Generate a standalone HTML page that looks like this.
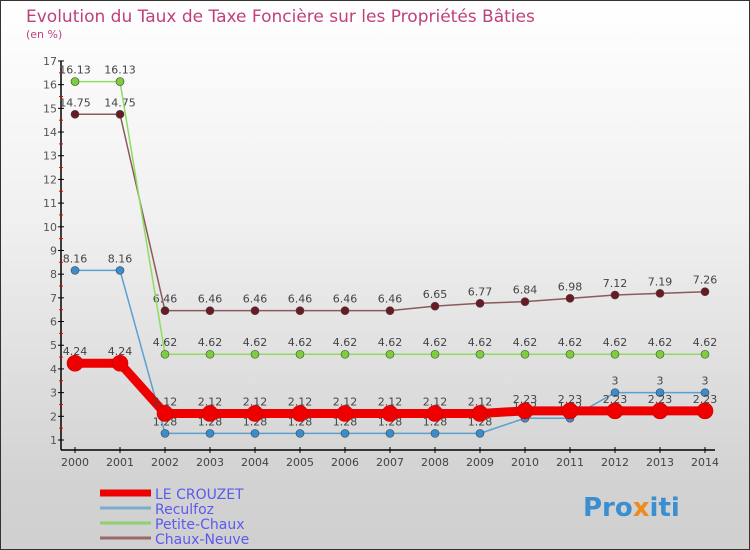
<!DOCTYPE html>
<html><head><meta charset="utf-8"><style>
body{margin:0;}
#c{width:750px;height:550px;position:relative;overflow:hidden;background:linear-gradient(#ffffff 0%,#f0f0f0 40%,#d2d2d2 88%,#d0d0d0 100%);font-family:"DejaVu Sans","Liberation Sans",sans-serif;}
svg{position:absolute;left:0;top:0;}
</style></head><body>
<div id="c">
<svg id="s" width="750" height="550">
<rect x="0.5" y="0.5" width="749" height="549" fill="none" stroke="#333" stroke-width="1"/>
<text x="26" y="22" font-size="17" fill="#c0407a" font-family="DejaVu Sans, sans-serif">Evolution du Taux de Taxe Foncière sur les Propriétés Bâties</text>
<text x="26" y="38" font-size="11" fill="#c0407a">(en %)</text>
<g id="axes"></g><g id="series"></g><g id="legend"></g>
<text x="583" y="516" font-size="26" font-weight="bold" fill="#3b8fd0">Pro<tspan fill="#f08a1c">x</tspan>iti</text>
</svg></div>
<script>
const years=[2000,2001,2002,2003,2004,2005,2006,2007,2008,2009,2010,2011,2012,2013,2014];
const yTicks=[1,2,3,4,5,6,7,8,9,10,11,12,13,14,15,16,17];
const leCrouzet=[4.24,4.24,2.12,2.12,2.12,2.12,2.12,2.12,2.12,2.12,2.23,2.23,2.23,2.23,2.23];
const reculfoz=[8.16,8.16,1.28,1.28,1.28,1.28,1.28,1.28,1.28,1.28,1.92,1.92,3,3,3];
const petiteChaux=[16.13,16.13,4.62,4.62,4.62,4.62,4.62,4.62,4.62,4.62,4.62,4.62,4.62,4.62,4.62];
const chauxNeuve=[14.75,14.75,6.46,6.46,6.46,6.46,6.46,6.46,6.65,6.77,6.84,6.98,7.12,7.19,7.26];
const names=["LE CROUZET","Reculfoz","Petite-Chaux","Chaux-Neuve"];
const NS="http://www.w3.org/2000/svg";
const X=i=>75+i*45;
const Y=v=>440-(v-1)*23.69;
function mk(tag,attrs,parent,txt){const e=document.createElementNS(NS,tag);for(const k in attrs)e.setAttribute(k,attrs[k]);if(txt!==undefined)e.textContent=txt;parent.appendChild(e);return e;}
const ax=document.getElementById('axes');
let a=mk('line',{x1:61,y1:Y(17),x2:61,y2:450,stroke:'#000','stroke-width':1.5},ax);

a=mk('line',{x1:61,y1:450,x2:715,y2:450,stroke:'#000','stroke-width':1.5},ax);

yTicks.forEach(v=>{
 let t=mk('line',{x1:58,x2:64,y1:Y(v),y2:Y(v),stroke:'#000'},ax);
 
 if(v<17){let h=mk('line',{x1:59,x2:63,y1:Y(v+0.5),y2:Y(v+0.5),stroke:'#e00'},ax);
 }
 let l=mk('text',{x:57,y:Y(v)+4,'font-size':11,fill:'#555','text-anchor':'end'},ax,String(v));
 
});
years.forEach((yr,i)=>{
 let t=mk('line',{x1:X(i),x2:X(i),y1:447,y2:453,stroke:'#000'},ax);
 
 let l=mk('text',{x:X(i),y:466,'font-size':11,fill:'#444','text-anchor':'middle'},ax,String(yr));
 
});
const sg=document.getElementById('series');
const defs=[[chauxNeuve,'#6b1a24','#8a5a5e',1.5,4,'chaux-neuve'],[petiteChaux,'#7ccf3a','#8fdc60',1.5,4,'petite-chaux'],[reculfoz,'#3a8ccc','#5aa0d0',1.5,4,'reculfoz'],[leCrouzet,'#ee0000','#ee0000',9,8,'le-crouzet']];
defs.forEach(d=>{
 const [vals,pc,lc,w,r,nm]=d;
 let p=mk('polyline',{points:vals.map((v,i)=>X(i)+','+Y(v)).join(' '),fill:'none',stroke:lc,'stroke-width':w,'stroke-linejoin':'round'},sg);
 
 vals.forEach((v,i)=>{
  let c=mk('circle',{cx:X(i),cy:Y(v),r:r,fill:pc,stroke:nm==='le-crouzet'?'#c00':'#444','stroke-width':0.6},sg);
  
  let s=String(v);
  let l=mk('text',{x:X(i),y:Y(v)-8,'font-size':11,fill:'#444','text-anchor':'middle'},sg,s);
  
 });
});
const lg=document.getElementById('legend');
const lcols=['#ee0000','#7aaed0','#90d070','#9a6a6a'];const lw=[7,3,3,3];
names.forEach((n,i)=>{
 const y=493+i*15;
 let l=mk('line',{x1:100,x2:151,y1:y,y2:y,stroke:lcols[i],'stroke-width':lw[i]},lg);
 
 let t=mk('text',{x:155,y:y+6,'font-size':14,fill:'#5a5aee'},lg,n);
 
});
</script>
</body></html>
